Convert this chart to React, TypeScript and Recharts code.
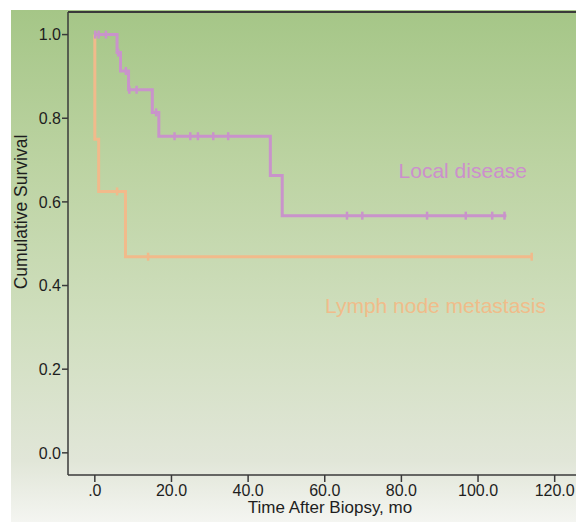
import React from 'react';
import { ComposedChart, Line, Scatter, XAxis, YAxis, ReferenceLine } from 'recharts';

// Kaplan-Meier steps
const localTimes = [0, 5.8, 6.7, 8.8, 15.0, 16.7, 45.8, 48.9, 107.4];
const localSurv = [1.0, 0.957, 0.913, 0.868, 0.814, 0.757, 0.663, 0.567, 0.567];
const localCensorTimes = [0.1, 1.0, 2.9, 6.1, 8.1, 9.0, 10.9, 16.0, 20.8, 24.9, 26.9, 30.9, 34.8, 65.8, 69.8, 86.7, 96.8, 103.7, 106.9];
const localCensorSurv = [1.0, 1.0, 1.0, 0.957, 0.913, 0.868, 0.868, 0.814, 0.757, 0.757, 0.757, 0.757, 0.757, 0.567, 0.567, 0.567, 0.567, 0.567, 0.567];

const lymphTimes = [0, 0, 1.0, 8.0, 114.0];
const lymphSurv = [1.0, 0.75, 0.625, 0.469, 0.469];
const lymphCensorTimes = [5.8, 13.9, 114.0];
const lymphCensorSurv = [0.625, 0.469, 0.469];

const xTicks = [0, 20, 40, 60, 80, 100, 120];
const xTickLabels = ['.0', '20.0', '40.0', '60.0', '80.0', '100.0', '120.0'];
const yTicks = [0, 0.2, 0.4, 0.6, 0.8, 1.0];

const toRows = (t: number[], s: number[]) => t.map((v, i) => ({ t: v, s: s[i] }));

const localData = toRows(localTimes, localSurv);
const lymphData = toRows(lymphTimes, lymphSurv);
const localCensors = toRows(localCensorTimes, localCensorSurv);
const lymphCensors = toRows(lymphCensorTimes, lymphCensorSurv);

const PURPLE = '#c993cb';
const ORANGE = '#f1ba8b';
const AXIS = '#3a3a3a';
const FONT = '"Liberation Sans", Arial, sans-serif';

const censorMark = (color: string) => (props: any) => {
  const { cx, cy } = props;
  return <line x1={cx} x2={cx} y1={cy - 4} y2={cy + 4} stroke={color} strokeWidth={2.5} />;
};

const XTick = (props: any) => {
  const { x, y, payload } = props;
  const label = xTickLabels[xTicks.indexOf(payload.value)];
  return (
    <text x={x} y={y} dy="0.71em" textAnchor="middle" fontSize={16} fill="#1e1e1e" fontFamily={FONT}>
      {label}
    </text>
  );
};

export default function App() {
  return (
    <div style={{ position: 'absolute', left: 0, top: 0, width: 576, height: 522, overflow: 'hidden', background: '#fff' }}>
      <div
        style={{
          position: 'absolute',
          left: 11,
          top: 10,
          right: 0,
          bottom: 0,
          background: 'linear-gradient(to bottom, #a5c687 0%, #bcd3a2 30%, #cfdebd 60%, #e1e6d8 88%, #f4f5f1 100%)',
        }}
      />
      <div style={{ position: 'absolute', left: 0, top: 0 }}>
        <ComposedChart width={593} height={522} margin={{ top: 12, right: 0, bottom: 0, left: 0 }}>
          <XAxis
            type="number"
            dataKey="t"
            domain={[-7, 130]}
            ticks={xTicks}
            allowDataOverflow
            height={47}
            tick={<XTick />}
            tickSize={7}
            tickMargin={3}
            stroke={AXIS}
            strokeWidth={1.5}
            tickLine={{ stroke: AXIS, strokeWidth: 1.5 }}
          />
          <YAxis
            type="number"
            dataKey="s"
            domain={[-0.053, 1.054]}
            ticks={yTicks}
            allowDataOverflow
            width={68}
            tickFormatter={(v: number) => v.toFixed(1)}
            tick={{ fontSize: 16, fill: '#1e1e1e', fontFamily: FONT }}
            tickSize={6}
            tickMargin={1}
            stroke={AXIS}
            strokeWidth={1.5}
            tickLine={{ stroke: AXIS, strokeWidth: 1.5 }}
          />
          <ReferenceLine y={1.054} stroke={AXIS} strokeWidth={2} />
          <Line
            data={lymphData}
            dataKey="s"
            type="stepAfter"
            stroke={ORANGE}
            strokeWidth={3}
            dot={false}
            activeDot={false}
            isAnimationActive={false}
          />
          <Line
            data={localData}
            dataKey="s"
            type="stepAfter"
            stroke={PURPLE}
            strokeWidth={3}
            dot={false}
            activeDot={false}
            isAnimationActive={false}
          />
          <Scatter data={lymphCensors} dataKey="s" shape={censorMark(ORANGE)} isAnimationActive={false} />
          <Scatter data={localCensors} dataKey="s" shape={censorMark(PURPLE)} isAnimationActive={false} />
        </ComposedChart>
      </div>
      <svg width={576} height={522} style={{ position: 'absolute', left: 0, top: 0, pointerEvents: 'none' }}>
        <text x={527} y={178} textAnchor="end" fontSize={21} fill="#cc8fcc" fontFamily={FONT}>
          Local disease
        </text>
        <text x={546} y={313} textAnchor="end" fontSize={21} fill="#f0bc8a" fontFamily={FONT}>
          Lymph node metastasis
        </text>
        <text x={330} y={513} textAnchor="middle" fontSize={17} fill="#1e1e1e" fontFamily={FONT}>
          Time After Biopsy, mo
        </text>
        <text
          x={27}
          y={212}
          textAnchor="middle"
          fontSize={17.5}
          fill="#1e1e1e"
          fontFamily={FONT}
          transform="rotate(-90 27 212)"
        >
          Cumulative Survival
        </text>
      </svg>
    </div>
  );
}
